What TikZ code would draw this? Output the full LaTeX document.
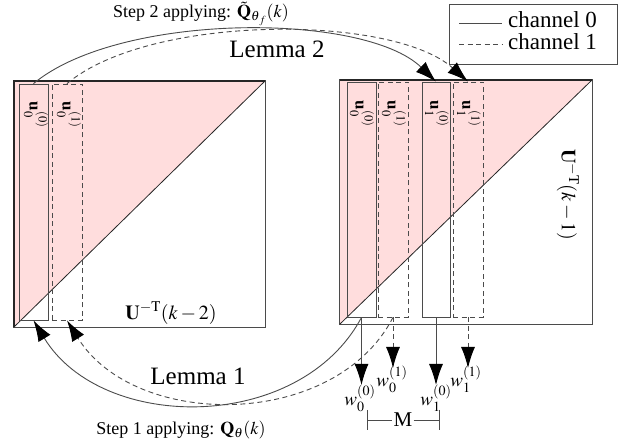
\documentclass[tikz,border=0pt]{standalone}
\usepackage{amsmath}
\usepackage{mathptmx}
\usepackage{fontspec}
\setmainfont{Liberation Serif}
\usetikzlibrary{arrows.meta}
\definecolor{pinkfill}{RGB}{255,221,221}
\definecolor{lgray}{RGB}{75,75,75}
\begin{document}
\begin{tikzpicture}[x=1pt,y=-1pt,
  matbox/.style={inner sep=0pt, minimum width=#1},
  colsolid/.style={draw=lgray, line width=0.8pt, inner sep=0pt, minimum height=236pt},
  coldash/.style={colsolid, dash pattern=on 5pt off 3.5pt},
  edge/.style={draw=lgray, line width=0.9pt},
  dashedge/.style={edge, dash pattern=on 5pt off 3.5pt},
  tip/.style={-{Latex[length=21pt,width=14pt,color=black]}},
  steptext/.style={font=\fontsize{18}{20}\selectfont, inner sep=0pt},
  lemmatext/.style={font=\fontsize{25}{28}\selectfont, inner sep=0pt},
  legtext/.style={font=\fontsize{23}{26}\selectfont, inner sep=0pt, anchor=west},
  ulab/.style={font=\fontsize{17}{19}\selectfont, inner sep=0pt, rotate=-90},
  Ulab/.style={font=\fontsize{20}{22}\selectfont, inner sep=0pt},
  wlab/.style={font=\fontsize{19}{21}\selectfont, inner sep=0pt},
  Mlab/.style={font=\fontsize{21}{23}\selectfont, inner sep=1pt}
]
\useasboundingbox (0,0) rectangle (624,443);

% matrices
\node[matbox=251pt, minimum height=246pt] (ML) at (139.5,204) {};
\node[matbox=252pt, minimum height=244pt] (MR) at (466,202) {};
\fill[pinkfill] (ML.north west) -- (ML.north east) -- (ML.south west) -- cycle;
\fill[pinkfill] (MR.north west) -- (MR.north east) -- (MR.south west) -- cycle;
\draw[lgray, line width=0.8pt] (ML.north west) rectangle (ML.south east);
\draw[lgray, line width=0.8pt] (MR.north west) rectangle (MR.south east);
\draw[black!85, line width=0.8pt] (ML.south west) -- (ML.north east);
\draw[black!85, line width=0.8pt] (MR.south west) -- (MR.north east);
\draw[black!85, line width=1.8pt] (ML.south west) -- (ML.north west) -- (ML.north east);
\draw[black!85, line width=1.5pt] (MR.north west) -- (MR.north east);

% columns
\node[colsolid, minimum width=29pt] (L0) at (33.5,202) {};
\node[coldash, minimum width=30pt] (L1) at (67,202) {};
\node[colsolid, minimum width=29pt, minimum height=235pt] (R0) at (361.5,199.5) {};
\node[coldash, minimum width=30pt, minimum height=235pt] (R1) at (393,199.5) {};
\node[colsolid, minimum width=28pt, minimum height=235pt] (R2) at (436,199.5) {};
\node[coldash, minimum width=30pt, minimum height=235pt] (R3) at (468,199.5) {};

\node[ulab] (uL0) at (36,115) {$\mathbf{u}_0^{(0)}$};
\node[ulab] (uL1) at (69,115) {$\mathbf{u}_0^{(1)}$};
\node[ulab] (uR0) at (362,114) {$\mathbf{u}_0^{(0)}$};
\node[ulab] (uR1) at (394,114) {$\mathbf{u}_0^{(1)}$};
\node[ulab] (uR2) at (437,114) {$\mathbf{u}_1^{(0)}$};
\node[ulab] (uR3) at (469,114) {$\mathbf{u}_1^{(1)}$};

\node[Ulab] (UL) at (171,313) {$\mathbf{U}^{-\mathrm{T}}(k-2)$};
\node[Ulab, rotate=-90] (UR) at (568,195) {$\mathbf{U}^{-\mathrm{T}}(k-1)$};

% legend
\node[draw=lgray, line width=0.8pt, minimum width=168pt, minimum height=60pt, inner sep=0pt] (leg) at (533,34) {};
\coordinate (s0a) at (459,23); \coordinate (s0b) at (502,23);
\coordinate (s1a) at (459,44); \coordinate (s1b) at (502,44);
\draw[edge] (s0a) -- (s0b);
\draw[dashedge] (s1a) -- (s1b);
\node[legtext] (c0) at (508,20) {channel 0};
\node[legtext] (c1) at (508,42) {channel 1};

% step 2 / lemma 2
\draw[edge, tip] (L0.north) .. controls (120,12) and (364,12) .. (R2.north);
\draw[dashedge, tip] (L1.north) .. controls (150,14) and (392,14) .. (R3.north);
\node[steptext] (st2) at (201,14) {Step 2 applying: $\tilde{\mathbf{Q}}_{\boldsymbol{\theta}_f}(k)$};
\node[lemmatext] (lem2) at (277,49) {Lemma 2};

% step 1 / lemma 1
\draw[edge, tip] (R0.south) .. controls (300,433) and (102,433) .. (L0.south);
\draw[dashedge, tip] (R1.south) .. controls (335,430) and (135,430) .. (L1.south);
\node[lemmatext] (lem1) at (198,376) {Lemma 1};
\node[steptext] (st1) at (181,430) {Step 1 applying: $\mathbf{Q}_{\boldsymbol{\theta}}(k)$};

% outputs
\coordinate (t00) at (361.5,385);
\coordinate (t01) at (393,368);
\coordinate (t10) at (436,385);
\coordinate (t11) at (468,368);
\draw[edge, tip] (R0.south) -- (t00);
\draw[dashedge, tip] (R1.south) -- (t01);
\draw[edge, tip] (R2.south) -- (t10);
\draw[dashedge, tip] (R3.south) -- (t11);
\node[wlab] (w00) at (360,398) {$w_0^{(0)}$};
\node[wlab] (w01) at (392,379) {$w_0^{(1)}$};
\node[wlab] (w10) at (436,398) {$w_1^{(0)}$};
\node[wlab] (w11) at (466,379) {$w_1^{(1)}$};

% M dimension
\coordinate (ma1) at (367,410); \coordinate (ma2) at (367,430);
\coordinate (mb1) at (439,410); \coordinate (mb2) at (439,430);
\coordinate (mal) at (367,420); \coordinate (mbl) at (439,420);
\node[Mlab] (M) at (403,420) {M};
\draw[edge] (ma1) -- (ma2);
\draw[edge] (mb1) -- (mb2);
\draw[edge] (mal) -- (M.west);
\draw[edge] (M.east) -- (mbl);
\end{tikzpicture}
\end{document}
